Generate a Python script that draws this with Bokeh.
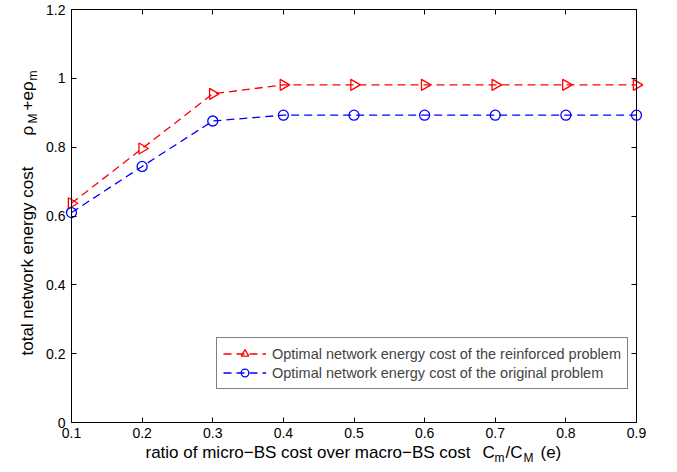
import math
from bokeh.plotting import figure
from bokeh.models import (Range1d, FixedTicker, LinearAxis, Legend, LegendItem, Label,
                          ColumnDataSource)
from bokeh.embed import file_html
from bokeh.resources import INLINE

# ---- data ----
x_vals = [0.1, 0.2, 0.3, 0.4, 0.5, 0.6, 0.7, 0.8, 0.9]
reinforced = [0.637, 0.796, 0.955, 0.981, 0.981, 0.981, 0.981, 0.981, 0.981]
original = [0.610, 0.744, 0.876, 0.893, 0.893, 0.893, 0.893, 0.893, 0.893]
x_ticks = [0.1, 0.2, 0.3, 0.4, 0.5, 0.6, 0.7, 0.8, 0.9]
y_ticks = [0, 0.2, 0.4, 0.6, 0.8, 1.0, 1.2]
y_tick_labels = ["0", "0.2", "0.4", "0.6", "0.8", "1", "1.2"]
label_reinforced = "Optimal network energy cost of the reinforced problem"
label_original = "Optimal network energy cost of the original problem"
x_min, x_max = 0.1, 0.9
y_min, y_max = 0.0, 1.2

FONT = "Liberation Sans"
W, H = 677, 472
# plot box in canvas pixels
BOX_L, BOX_R, BOX_T, BOX_B = 71, 636, 9, 422

# ranges so that the box lands where the reference has it (frame = whole canvas)
kx = (BOX_R - BOX_L) / (x_max - x_min)
ky = (BOX_B - BOX_T) / (y_max - y_min)
xr = Range1d(x_min - BOX_L / kx, x_max + (W - BOX_R) / kx)
yr = Range1d(y_min - (H - BOX_B) / ky, y_max + BOX_T / ky)

p = figure(width=W, height=H, output_backend="svg", toolbar_location=None,
           x_range=xr, y_range=yr, x_axis_location=None, y_axis_location=None,
           min_border=0, background_fill_color="white", border_fill_color="white")
p.outline_line_color = None
p.grid.visible = False

def make_axis(ticks, loc, bounds, show_labels, size="14px", overrides=None):
    ax = LinearAxis(ticker=FixedTicker(ticks=ticks), fixed_location=loc, bounds=bounds)
    ax.axis_line_color = "black"
    ax.axis_line_width = 1
    ax.major_tick_line_color = "black"
    ax.major_tick_in = 5
    ax.major_tick_out = 0
    ax.minor_tick_line_color = None
    ax.major_label_text_font = FONT
    ax.major_label_text_font_size = size
    ax.major_label_text_color = "black" if show_labels else None
    if overrides:
        ax.major_label_overrides = overrides
    return ax

ax_b = make_axis(x_ticks, y_min, (x_min, x_max), True)
ax_b.major_label_standoff = 5
p.add_layout(ax_b, "below")
ax_l = make_axis(y_ticks, x_min, (y_min, y_max), True,
                 overrides={t: s for t, s in zip(y_ticks, y_tick_labels)})
ax_l.major_label_standoff = 6
p.add_layout(ax_l, "left")
p.add_layout(make_axis(x_ticks, y_max, (x_min, x_max), False), "above")
p.add_layout(make_axis(y_ticks, x_max, (y_min, y_max), False), "right")

src = ColumnDataSource(dict(x=x_vals, reinforced=reinforced, original=original))

DASH = "8 5"
l1 = p.line("x", "reinforced", source=src, line_color="red", line_width=1.3, line_dash=DASH)
s1 = p.scatter("x", "reinforced", source=src, marker="triangle", angle=-math.pi / 2, size=11,
               line_color="red", line_width=1.3, fill_alpha=0)
l2 = p.line("x", "original", source=src, line_color="blue", line_width=1.3, line_dash=DASH)
s2 = p.scatter("x", "original", source=src, marker="circle", size=10,
               line_color="blue", line_width=1.3, fill_alpha=0)

legend = Legend(items=[LegendItem(label=label_reinforced, renderers=[l1, s1]),
                       LegendItem(label=label_original, renderers=[l2, s2])],
                location=(216, H - 389), glyph_width=43, glyph_height=19, label_height=19,
                label_standoff=6, padding=6, spacing=0, margin=0,
                label_text_font=FONT, label_text_font_size="14.5px",
                border_line_color="black", border_line_width=1,
                background_fill_color="white", background_fill_alpha=1)
p.add_layout(legend, "center")

# ---- axis titles with subscripts (screen units, origin = canvas bottom-left) ----
def lab(text, x, y, size="17px", angle=0.0):
    p.add_layout(Label(text=text, x=x, y=y, x_units="screen", y_units="screen",
                       angle=angle, text_font=FONT, text_font_size=size,
                       text_color="black", text_align="left",
                       text_baseline="alphabetic"))

yb = H - 452
lab("ratio of micro\u2212BS cost over macro\u2212BS cost", 145, yb)
lab("C", 482, yb)
lab("m", 494, yb - 5, "12px")
lab("/C", 505, yb)
lab("M", 523, yb - 5, "12px")
lab("(e)", 540, yb)

A = math.pi / 2
xb = 27
lab("total network energy cost", xb, H - 355, angle=A)
lab("\u03c1", xb, H - 135, angle=A)
lab("M", xb + 5, H - 123, "12px", angle=A)
lab("+e\u03c1", xb, H - 110, angle=A)
lab("m", xb + 5, H - 80, "12px", angle=A)

open("out.html", "w").write(file_html(p, INLINE))
